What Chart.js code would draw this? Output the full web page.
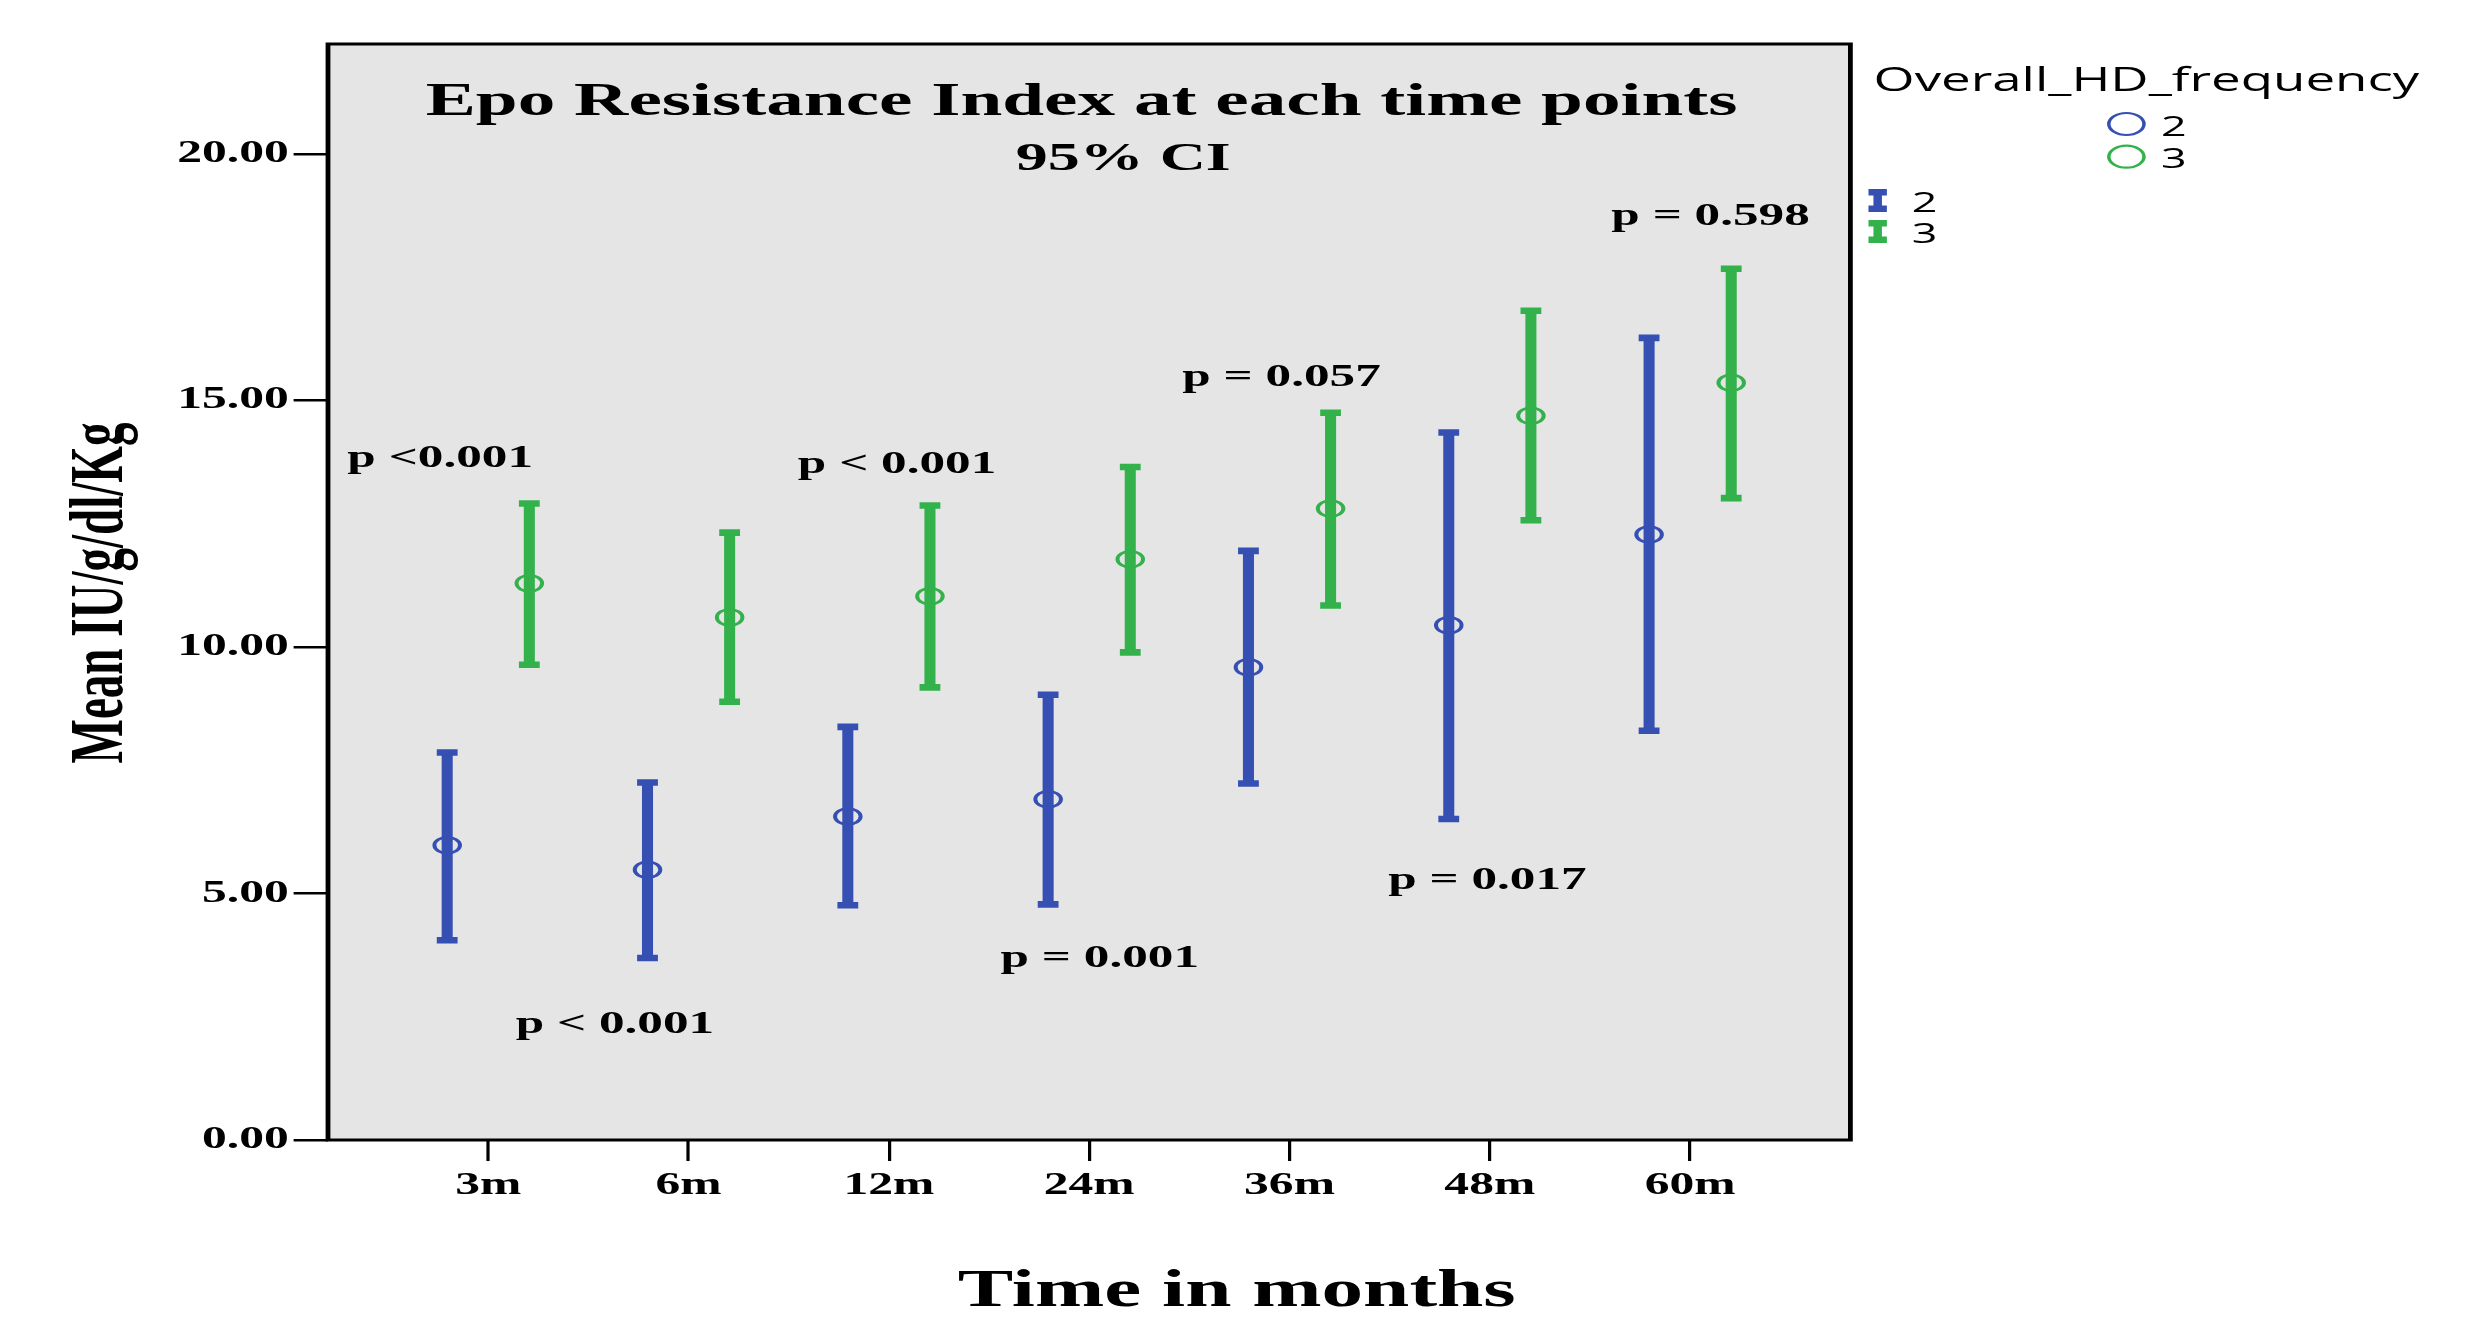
<!DOCTYPE html>
<html>
<head>
<meta charset="utf-8">
<script src="https://cdn.jsdelivr.net/npm/chart.js@4.4.1/dist/chart.umd.min.js"></script>
<style>
html,body{margin:0;padding:0;background:#fff;overflow:hidden}
canvas{display:block}
</style>
</head>
<body>
<canvas id="c" width="1545" height="1319" style="width:2472px;height:1319px"></canvas>
<script>
// ---------- data ----------
const categories = ['3m', '6m', '12m', '24m', '36m', '48m', '60m'];
const groupNames = ['2', '3'];

const mean2 = [5.98, 5.48, 6.56, 6.91, 9.59, 10.44, 12.28];
const low2  = [4.05, 3.69, 4.76, 4.78, 7.23, 6.51, 8.30];
const high2 = [7.86, 7.25, 8.38, 9.03, 11.95, 14.35, 16.27];

const mean3 = [11.29, 10.60, 11.03, 11.78, 12.81, 14.69, 15.36];
const low3  = [9.64, 8.89, 9.18, 9.89, 10.84, 12.57, 13.02];
const high3 = [12.91, 12.32, 12.87, 13.65, 14.75, 16.82, 17.67];

const yTickValues = [0, 5, 10, 15, 20];

const pLabels  = ['p <0.001', 'p < 0.001', 'p < 0.001', 'p = 0.001', 'p = 0.057', 'p = 0.017', 'p = 0.598'];
const pAnchorX = [-0.24, 0.632, 2.041, 3.053, 3.96, 4.988, 6.102];   // in category units
const pAnchorY = [13.65, 2.17, 13.52, 3.51, 15.29, 5.09, 18.55];     // baseline, in axis units

const titleText = 'Epo Resistance Index at each time points';
const subtitleText = '95% CI';
const xTitleText = 'Time in months';
const yTitleText = 'Mean IU/g/dl/Kg';
const legendTitle = 'Overall_HD_frequency';

// ---------- styles ----------
const W = 2472, H = 1319, S = 1.6, LW = W / S;
const BLUE = '#354fb3', GREEN = '#33b24c';
const OFFSET = 0.205;
const SERIF = '"Liberation Serif", "Times New Roman", serif';
const SANS = '"Open Sans", "DejaVu Sans", sans-serif';

function seriesSets(mean, low, high, color, off) {
  return [
    { type: 'bar', data: categories.map((c, i) => ({ x: i + off, y: [low[i], high[i]] })),
      backgroundColor: color, borderWidth: 0, barThickness: 6.25, grouped: false, order: 3 },
    { type: 'scatter', data: categories.map((c, i) => ({ x: i + off, y: low[i] }))
        .concat(categories.map((c, i) => ({ x: i + off, y: high[i] }))),
      pointStyle: 'line', pointRadius: 6.5, pointBorderWidth: 6.6,
      pointBorderColor: color, borderColor: color, order: 2 },
    { type: 'scatter', data: categories.map((c, i) => ({ x: i + off, y: mean[i] })),
      pointStyle: 'circle', pointRadius: 8, pointBorderWidth: 2.5,
      pointBorderColor: color, borderColor: color, pointBackgroundColor: 'rgba(0,0,0,0)', order: 1 }
  ];
}

const deco = {
  id: 'deco',
  beforeDraw(chart) {
    const { ctx, chartArea: a } = chart;
    ctx.save();
    ctx.fillStyle = '#e5e5e5';
    ctx.fillRect(a.left, a.top, a.right - a.left, a.bottom - a.top);
    ctx.restore();
  },
  afterDraw(chart) {
    const { ctx, chartArea: a } = chart;
    const xs = chart.scales.x, ys = chart.scales.y;
    ctx.save();
    ctx.strokeStyle = '#000';
    ctx.lineWidth = 3;
    ctx.strokeRect(a.left, a.top, a.right - a.left, a.bottom - a.top);

    ctx.fillStyle = '#000';
    ctx.textAlign = 'center';
    ctx.textBaseline = 'alphabetic';
    ctx.font = 'bold 47px ' + SERIF;
    ctx.fillText(titleText, 676, 115);
    ctx.font = 'bold 40px ' + SERIF;
    ctx.fillText(subtitleText, 702, 170);

    ctx.font = 'bold 32px ' + SERIF;
    pLabels.forEach((t, i) => {
      ctx.fillText(t, xs.getPixelForValue(pAnchorX[i]), ys.getPixelForValue(pAnchorY[i]));
    });

    ctx.font = 'bold 52px ' + SERIF;
    ctx.fillText(xTitleText, 773, 1306);

    ctx.save();
    ctx.translate(76, 593);
    ctx.rotate(-Math.PI / 2);
    ctx.font = 'bold 47px ' + SERIF;
    ctx.fillText(yTitleText, 0, 0);
    ctx.restore();

    // legend
    ctx.textAlign = 'left';
    ctx.font = '33px ' + SANS;
    ctx.fillText(legendTitle, 1171, 91);
    const cols = [BLUE, GREEN];
    ctx.font = '28px ' + SANS;
    groupNames.forEach((g, k) => {
      const cy = 124 + k * 32.7;
      ctx.strokeStyle = cols[k];
      ctx.lineWidth = 2.2;
      ctx.beginPath();
      ctx.arc(1329, cy, 11, 0, Math.PI * 2);
      ctx.stroke();
      ctx.fillStyle = '#000';
      ctx.fillText(g, 1350.7, cy + 11.7);

      const top = 189 + k * 31, bot = top + 23;
      ctx.fillStyle = cols[k];
      ctx.fillRect(1167.8, top, 11.5, 6.5);
      ctx.fillRect(1167.8, bot - 6.5, 11.5, 6.5);
      ctx.fillRect(1170.9, top, 5.3, bot - top);
      ctx.fillStyle = '#000';
      ctx.fillText(g, 1194.8, bot);
    });
    ctx.restore();
  }
};

const canvas = document.getElementById('c');
const tickFont = { family: SERIF, weight: 'bold', size: 31 };

const chart = new Chart(canvas.getContext('2d'), {
  type: 'scatter',
  data: {
    datasets: [
      ...seriesSets(mean2, low2, high2, BLUE, -OFFSET),
      ...seriesSets(mean3, low3, high3, GREEN, OFFSET)
    ]
  },
  options: {
    responsive: false,
    animation: false,
    devicePixelRatio: 1,
    events: [],
    layout: { padding: { left: 0, top: 44, right: LW - 1156.5, bottom: 0 } },
    plugins: { legend: { display: false }, tooltip: { enabled: false }, title: { display: false } },
    scales: {
      x: {
        type: 'linear', min: -0.8, max: 6.8, offset: false,
        afterBuildTicks: s => { s.ticks = categories.map((c, i) => ({ value: i })); },
        afterFit: s => { s.height = H - 1140; },
        ticks: { callback: v => categories[v], font: tickFont, color: '#000', padding: 6, maxRotation: 0, autoSkip: false },
        grid: { drawOnChartArea: false, drawTicks: true, tickLength: 21, color: '#000', lineWidth: 2, offset: false },
        border: { display: false }
      },
      y: {
        type: 'linear', min: 0, max: 22.23,
        afterBuildTicks: s => { s.ticks = yTickValues.map(v => ({ value: v })); },
        afterFit: s => { s.width = 205; },
        ticks: { callback: v => v.toFixed(2), font: tickFont, color: '#000', padding: 3 },
        grid: { drawOnChartArea: false, drawTicks: true, tickLength: 21.5, color: '#000', lineWidth: 2.5 },
        border: { display: false }
      }
    }
  },
  plugins: [deco]
});

function stretchDraw() {
  canvas.width = W;
  canvas.height = H;
  canvas.style.width = W + 'px';
  canvas.style.height = H + 'px';
  chart.ctx.setTransform(S, 0, 0, 1, 0, 0);
  chart.draw();
}
stretchDraw();
if (document.fonts && document.fonts.ready) document.fonts.ready.then(stretchDraw);
</script>
</body>
</html>
